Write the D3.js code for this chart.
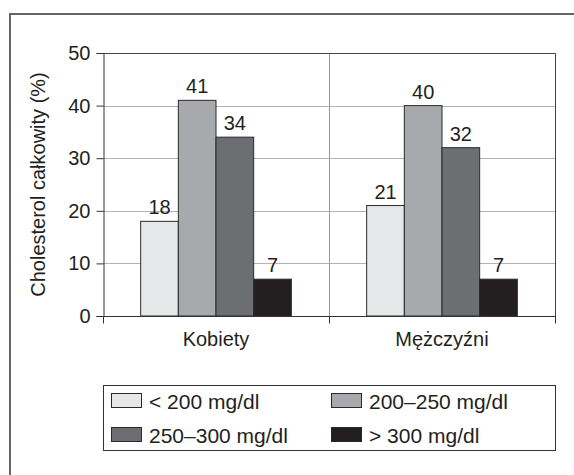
<!DOCTYPE html>
<html>
<head>
<meta charset="utf-8">
<script src="https://cdn.jsdelivr.net/npm/d3@7"></script>
<style>
  html, body { margin: 0; padding: 0; background: #fff; }
  svg { display: block; }
  text { font-family: "Liberation Sans", Arial, sans-serif; fill: #231f20; }
</style>
</head>
<body>
<svg id="chart" width="574" height="475"></svg>
<script>
const categories = ["Kobiety", "Mężczyźni"];
const seriesNames = ["< 200 mg/dl", "200–250 mg/dl", "250–300 mg/dl", "> 300 mg/dl"];
const kobiety = [18, 41, 34, 7];
const mezczyzni = [21, 40, 32, 7];
const seriesColors = ["#e6e7e8", "#a7a9ac", "#6d6e71", "#231f20"];
const yTicks = [0, 10, 20, 30, 40, 50];
const yTitle = "Cholesterol całkowity (%)";

const values = [kobiety, mezczyzni];
const svg = d3.select("#chart");
const FONT = '"Liberation Sans", Arial, sans-serif';

const plot = { left: 103, top: 53, right: 555, bottom: 316 };

// outer frame (top + left)
svg.append("line").attr("x1", 9).attr("x2", 574).attr("y1", 14).attr("y2", 14)
  .attr("stroke", "#666").attr("stroke-width", 2);
svg.append("line").attr("x1", 10).attr("x2", 10).attr("y1", 13).attr("y2", 475)
  .attr("stroke", "#666").attr("stroke-width", 2);

const y = d3.scaleLinear().domain([0, 50]).range([plot.bottom, plot.top]);
const x0 = d3.scaleBand().domain(categories).range([plot.left, plot.right]).padding(0);
const x1 = d3.scaleBand().domain(seriesNames).range([0, x0.bandwidth()])
  .paddingInner(0).paddingOuter(1);

// gridlines
svg.append("g").selectAll("line").data(yTicks.filter(t => t > 0 && t < 50)).join("line")
  .attr("x1", plot.left).attr("x2", plot.right)
  .attr("y1", d => Math.round(y(d)) + 0.5).attr("y2", d => Math.round(y(d)) + 0.5)
  .attr("stroke", "#b3b3b3").attr("stroke-width", 1);
svg.append("line")
  .attr("x1", Math.round(x0(categories[1])) + 0.5).attr("x2", Math.round(x0(categories[1])) + 0.5)
  .attr("y1", plot.top).attr("y2", plot.bottom)
  .attr("stroke", "#999").attr("stroke-width", 1);

// plot border top/right
svg.append("path")
  .attr("d", `M${plot.left},${plot.top + 0.5}H${plot.right + 0.5}V${plot.bottom}`)
  .attr("fill", "none").attr("stroke", "#444").attr("stroke-width", 1);

// bars
const groups = svg.append("g").selectAll("g").data(categories).join("g")
  .attr("transform", d => `translate(${x0(d)},0)`);
groups.selectAll("rect").data((c, i) => values[i].map((v, j) => ({ s: seriesNames[j], v, j })))
  .join("rect")
  .attr("x", d => x1(d.s))
  .attr("y", d => y(d.v))
  .attr("width", x1.bandwidth())
  .attr("height", d => y(0) - y(d.v))
  .attr("fill", d => seriesColors[d.j])
  .attr("stroke", "#2a2a2a").attr("stroke-width", 1);
groups.selectAll("text").data((c, i) => values[i].map((v, j) => ({ s: seriesNames[j], v, j })))
  .join("text")
  .attr("x", d => x1(d.s) + x1.bandwidth() / 2)
  .attr("y", d => y(d.v) - 7)
  .attr("text-anchor", "middle")
  .style("font-size", "20px")
  .text(d => d.v);

// y axis
const yAxis = svg.append("g").attr("transform", `translate(${plot.left + 0.5},0)`)
  .call(d3.axisLeft(y).tickValues(yTicks).tickSize(7).tickPadding(6));
yAxis.select(".domain").attr("stroke", "#333");
yAxis.selectAll(".tick line").attr("stroke", "#333");
yAxis.selectAll("text").style("font-size", "20px").attr("fill", "#231f20")
  .style("font-family", FONT);

// x axis
const xAxisG = svg.append("g").attr("transform", `translate(0,${plot.bottom + 0.5})`);
xAxisG.append("line").attr("x1", plot.left).attr("x2", plot.right + 1)
  .attr("stroke", "#333");
const boundaries = [plot.left, x0(categories[1]), plot.right];
xAxisG.selectAll("line.tk").data(boundaries).join("line").attr("class", "tk")
  .attr("x1", d => Math.round(d) + 0.5).attr("x2", d => Math.round(d) + 0.5)
  .attr("y1", 0).attr("y2", 7).attr("stroke", "#333");
xAxisG.selectAll("text").data(categories).join("text")
  .attr("x", d => x0(d) + x0.bandwidth() / 2)
  .attr("y", 29)
  .attr("text-anchor", "middle")
  .style("font-size", "20px")
  .text(d => d);

// y title
svg.append("text")
  .attr("transform", `translate(45,${(plot.top + plot.bottom) / 2}) rotate(-90)`)
  .attr("text-anchor", "middle")
  .style("font-size", "20px")
  .text(yTitle);

// legend
const leg = svg.append("g");
leg.append("rect").attr("x", 103.5).attr("y", 385.5).attr("width", 452).attr("height", 65)
  .attr("fill", "none").attr("stroke", "#333").attr("stroke-width", 1);
const legPos = [
  { x: 111, y: 401 }, { x: 331, y: 401 },
  { x: 111, y: 435 }, { x: 331, y: 435 }
];
seriesNames.forEach((name, i) => {
  const p = legPos[i];
  leg.append("rect").attr("x", p.x + 0.5).attr("y", p.y - 7.5).attr("width", 30).attr("height", 14)
    .attr("fill", seriesColors[i]).attr("stroke", "#2a2a2a").attr("stroke-width", 1);
  leg.append("text").attr("x", p.x + 38).attr("y", p.y).attr("dy", "0.36em")
    .style("font-size", "21px").text(name);
});
</script>
</body>
</html>
